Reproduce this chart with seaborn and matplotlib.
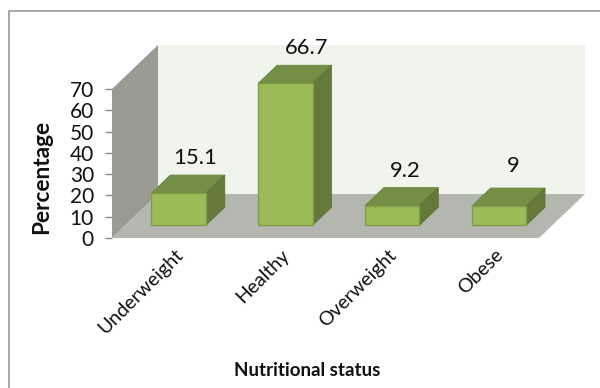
import matplotlib
matplotlib.use("Agg")
import matplotlib.pyplot as plt
from matplotlib.lines import Line2D
from matplotlib.patches import Polygon
from matplotlib.transforms import ScaledTranslation
import pandas as pd
import seaborn as sns

categories = ["Underweight", "Healthy", "Overweight", "Obese"]
percentages = [15.1, 66.7, 9.2, 9]
value_labels = ["15.1", "66.7", "9.2", "9"]
y_ticks = [0, 10, 20, 30, 40, 50, 60, 70]

WIDTH, HEIGHT = 600, 388
# Front plane of the box, in pixels from the top-left corner
LEFT, RIGHT, TOP, BOTTOM = 112, 539, 89, 238
DEPTH_X = 46 / ((RIGHT - LEFT) / 4)      # box depth in category units
DEPTH_Y = 44 / ((BOTTOM - TOP) / 70)     # box depth in percentage units
BAR_NEAR, BAR_FAR = 0.29, 0.70           # bar depth range inside the box
BAR_WIDTH = 0.51
# Small hand placement of the value labels, in points
LABEL_NUDGE_X = [-2, 1.5, -4.5, -3.5]
LABEL_NUDGE_Y = [5, 5, 5, 9]


def project(x, y, depth=0.0):
    """Oblique projection of a box point onto the front plane."""
    return x + depth * DEPTH_X, y + depth * DEPTH_Y


sns.set_theme(style="white")
plt.rcParams["font.family"] = ["Lato", "DejaVu Sans"]

fig = plt.figure(figsize=(WIDTH / 100, HEIGHT / 100), dpi=100)
ax = fig.add_axes([LEFT / WIDTH, 1 - BOTTOM / HEIGHT,
                   (RIGHT - LEFT) / WIDTH, (BOTTOM - TOP) / HEIGHT])

frame = pd.DataFrame({"status": categories, "percentage": percentages})
sns.barplot(data=frame, x="status", y="percentage", ax=ax, width=BAR_WIDTH,
            color="#9BBB59", saturation=1, edgecolor="#7E9E45", linewidth=1.0,
            zorder=5)
ax.set_xlim(-0.5, 3.5)
ax.set_ylim(0, 70)
sns.despine(ax=ax, top=True, right=True, bottom=True, left=True)
x0, x1 = ax.get_xlim()
y0, y1 = ax.get_ylim()


def face(points, colour, zorder, edge="none", lw=0.0):
    ax.add_patch(Polygon(points, closed=True, facecolor=colour, edgecolor=edge,
                         linewidth=lw, zorder=zorder, clip_on=False))


# Box walls and floor
face([project(x0, y0, 1), project(x1, y0, 1), project(x1, y1, 1), project(x0, y1, 1)], "#F1F4EC", 1)
face([project(x0, y0, 0), project(x0, y1, 0), project(x0, y1, 1), project(x0, y0, 1)], "#9A9C94", 2)
face([project(x0, y0, 0), project(x1, y0, 0), project(x1, y0, 1), project(x0, y0, 1)], "#B4B6B0", 2)

# Bars stand back from the front plane; top and side faces follow each height
for i, (patch, value, text) in enumerate(zip(ax.patches, percentages, value_labels)):
    left = patch.get_x()
    right = left + patch.get_width()
    nx, ny = project(left, 0, BAR_NEAR)
    patch.set_x(nx)
    patch.set_y(ny)
    patch.set_clip_on(False)
    face([project(left, value, BAR_NEAR), project(right, value, BAR_NEAR),
          project(right, value, BAR_FAR), project(left, value, BAR_FAR)],
         "#748E45", 4, "#6F8A40", 0.6)
    face([project(right, 0, BAR_NEAR), project(right, value, BAR_NEAR),
          project(right, value, BAR_FAR), project(right, 0, BAR_FAR)],
         "#64793A", 4, "#5F7536", 0.6)
    lx, ly = project(i, value, BAR_FAR)
    ax.annotate(text, (lx, ly), xytext=(LABEL_NUDGE_X[i], LABEL_NUDGE_Y[i]),
                textcoords="offset points", ha="center", va="bottom", fontsize=15.8,
                color="#111111", zorder=6, annotation_clip=False)

# Value axis ticks
ax.set_yticks(y_ticks)
ax.tick_params(axis="y", left=True, length=5, width=1, color="#8C8C8C",
               labelsize=15, pad=8, labelcolor="#111111")
ax.set_ylabel("Percentage", fontsize=16.3, fontweight="bold", color="#111111")
ax.yaxis.set_label_coords(-0.14, 0.41)

# Category labels, shifted onto the bar plane
ax.set_xticks(range(len(categories)))
ax.set_xticklabels(categories, rotation=45, ha="right", rotation_mode="anchor",
                   fontsize=14, color="#111111")
ax.tick_params(axis="x", bottom=False, pad=0)
label_shift = ScaledTranslation(9 / 100, 0, fig.dpi_scale_trans)
for tick_label in ax.get_xticklabels():
    tick_label.set_transform(tick_label.get_transform() + label_shift)
ax.set_xlabel("Nutritional status", fontsize=13.5, fontweight="bold", color="#111111")
ax.xaxis.set_label_coords(0.458, -0.83)

# Outer chart border running off the top and right
fig.add_artist(Line2D([8.5 / WIDTH, 8.5 / WIDTH, 1], [0, 1 - 10.5 / HEIGHT, 1 - 10.5 / HEIGHT],
                      color="#A6A6A6", linewidth=1.4))

fig.savefig("out.png", dpi=100)
